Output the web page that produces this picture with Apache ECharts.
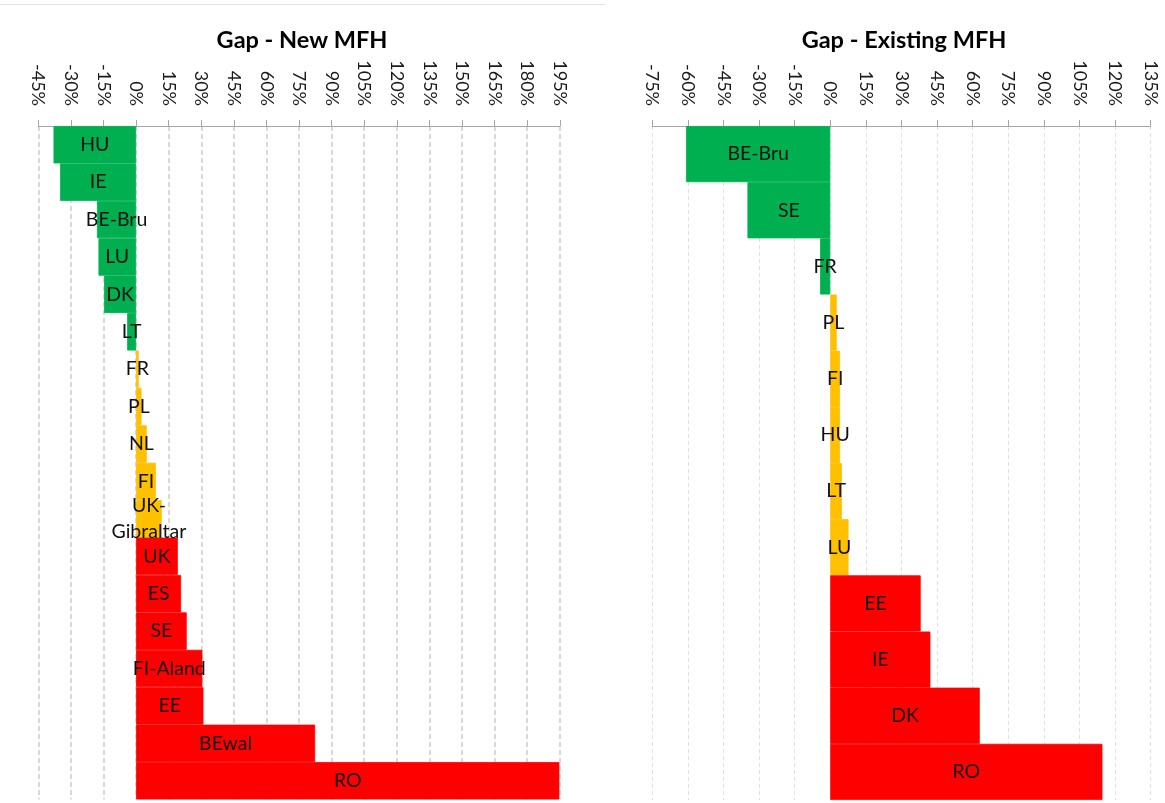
<!DOCTYPE html>
<html>
<head>
<meta charset="utf-8">
<script src="https://cdn.jsdelivr.net/npm/echarts@6/dist/echarts.min.js"></script>
<style>
  html, body { margin: 0; padding: 0; background: #ffffff; }
  #chart { width: 1165px; height: 803px; }
</style>
</head>
<body>
<div id="chart"></div>
<script>
// Gap per country, new multi-family houses (%)
const newCategories = ['HU', 'IE', 'BE-Bru', 'LU', 'DK', 'LT', 'FR', 'PL', 'NL', 'FI',
  'UK-Gibraltar', 'UK', 'ES', 'SE', 'FI-Aland', 'EE', 'BEwal', 'RO'];
const newGap = [-38, -35, -18, -17.3, -14.7, -4.1, 1.2, 2.5, 4.9, 9.1,
  11.8, 19.2, 20.7, 23.3, 30.5, 31, 82.4, 194.8];

// Gap per country, existing multi-family houses (%)
const existingCategories = ['BE-Bru', 'SE', 'FR', 'PL', 'FI', 'HU', 'LT', 'LU', 'EE', 'IE', 'DK', 'RO'];
const existingGap = [-60.8, -34.9, -4.3, 2.7, 4.1, 4.1, 4.9, 7.7, 38.1, 42.2, 63, 114.7];

// Axis tick values (percent)
const newTicks = [-45, -30, -15, 0, 15, 30, 45, 60, 75, 90, 105, 120, 135, 150, 165, 180, 195];
const existingTicks = [-75, -60, -45, -30, -15, 0, 15, 30, 45, 60, 75, 90, 105, 120, 135];

const GREEN = '#00B050', AMBER = '#FFC000', RED = '#FF0000';
const FONT = 'Lato, "Open Sans", sans-serif';

function bandColor(v) {
  if (v < 0) return GREEN;
  if (v < 15) return AMBER;
  return RED;
}

// A thin border in the fill colour closes the hairline seams between stacked bands
function barData(values) {
  return values.map(v => {
    const c = bandColor(v);
    return { value: v, itemStyle: { color: c, borderColor: c, borderWidth: 0.8 } };
  });
}

function valueAxis(gridIndex, ticks, gridStyle) {
  return {
    type: 'value',
    gridIndex,
    position: 'top',
    min: ticks[0],
    max: ticks[ticks.length - 1],
    interval: ticks[1] - ticks[0],
    axisLine: { show: true, lineStyle: { color: '#a6a6a6', width: 1 } },
    axisTick: { show: true, inside: false, length: 6, lineStyle: { color: '#a6a6a6' } },
    axisLabel: {
      rotate: 90, margin: 20, fontSize: 18, color: '#1a1a1a', fontFamily: FONT,
      formatter: '{value}%'
    },
    splitLine: { show: true, lineStyle: gridStyle }
  };
}

function categoryAxis(gridIndex, cats) {
  return {
    type: 'category',
    gridIndex,
    data: cats,
    inverse: true,
    show: false
  };
}

function barSeries(axisIndex, values) {
  return {
    type: 'bar',
    xAxisIndex: axisIndex,
    yAxisIndex: axisIndex,
    data: barData(values),
    barCategoryGap: '0%',
    silent: true,
    label: {
      show: true,
      position: 'inside',
      color: '#111',
      fontSize: 19.5,
      fontFamily: FONT,
      lineHeight: 26,
      formatter: p => p.name === 'UK-Gibraltar' ? 'UK-\nGibraltar' : p.name
    }
  };
}

const chart = echarts.init(document.getElementById('chart'), null, { renderer: 'canvas' });

chart.setOption({
  animation: false,
  backgroundColor: '#ffffff',
  title: [
    { text: 'Gap - New MFH', left: 297, top: 23, textAlign: 'center',
      textStyle: { fontSize: 23.5, fontWeight: 'bold', color: '#000', fontFamily: FONT } },
    { text: 'Gap - Existing MFH', left: 899, top: 23, textAlign: 'center',
      textStyle: { fontSize: 23.5, fontWeight: 'bold', color: '#000', fontFamily: FONT } }
  ],
  graphic: [
    { type: 'line', shape: { x1: 0, y1: 4.5, x2: 605, y2: 4.5 },
      style: { stroke: '#e3e3e3', lineWidth: 1 }, silent: true }
  ],
  grid: [
    { left: 38.3, top: 126, width: 521.5, height: 673.5, containLabel: false },
    { left: 652.3, top: 126, width: 498.3, height: 674, containLabel: false }
  ],
  xAxis: [
    valueAxis(0, newTicks, { color: '#d9d9d9', width: 2, type: [5, 3] }),
    valueAxis(1, existingTicks, { color: '#e0e0e0', width: 1, type: [4, 3] })
  ],
  yAxis: [
    categoryAxis(0, newCategories),
    categoryAxis(1, existingCategories)
  ],
  series: [
    barSeries(0, newGap),
    barSeries(1, existingGap)
  ]
});
</script>
</body>
</html>
